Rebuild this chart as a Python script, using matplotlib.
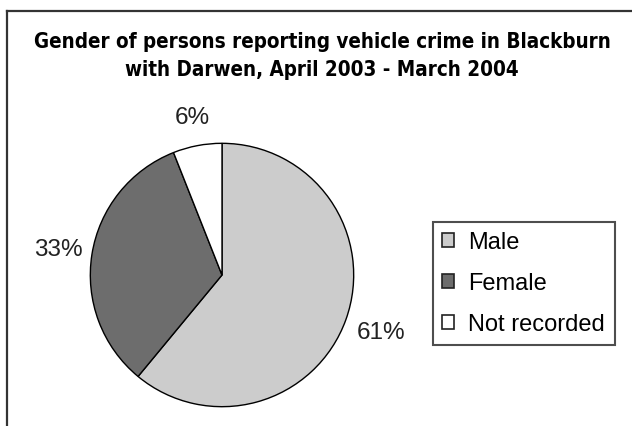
import numpy as np
import matplotlib
matplotlib.use("Agg")
import matplotlib.pyplot as plt
from matplotlib.lines import Line2D

# data
categories = ["Male", "Female", "Not recorded"]
shares = [61, 33, 6]
colors = ["#cccccc", "#6d6d6d", "#ffffff"]
label_dist = [1.28, 1.26, 1.22]

W, H = 632, 427
fig = plt.figure(figsize=(W / 100, H / 100), dpi=100)
plt.rcParams["font.family"] = ["Liberation Sans", "DejaVu Sans"]

# outer frame (only top and left edge visible in the reference)
fig.add_artist(Line2D([7 / W, 7 / W], [0, 1 - 12 / H], color="#333333", lw=1.6))
fig.add_artist(Line2D([7 / W, 1], [1 - 12 / H, 1 - 12 / H], color="#333333", lw=1.6))

title_kw = dict(ha="center", va="baseline", fontsize=14.8, fontweight="bold",
                fontstretch="condensed", family=["DejaVu Sans"])
fig.text(322 / W, 1 - 48 / H, "Gender of persons reporting vehicle crime in Blackburn", **title_kw)
fig.text(322 / W, 1 - 76 / H, "with Darwen, April 2003 - March 2004", **title_kw)

cx, cy, r = 222, 276, 133
ax = fig.add_axes([(cx - r) / W, (H - cy - r) / H, 2 * r / W, 2 * r / H])
wedges, _ = ax.pie(shares, colors=colors, startangle=90, counterclock=False,
                   wedgeprops=dict(edgecolor="black", linewidth=1.0))
ax.set_xlim(-1.01, 1.01)
ax.set_ylim(-1.01, 1.01)
ax.set_aspect("equal")
ax.axis("off")

for w, val, d in zip(wedges, shares, label_dist):
    ang = np.deg2rad((w.theta1 + w.theta2) / 2)
    ax.text(d * np.cos(ang), d * np.sin(ang), f"{val}%", ha="center", va="center",
            fontsize=17.5, color="#222222", clip_on=False)

leg = fig.legend(wedges, categories, loc="upper left",
                 bbox_to_anchor=(433 / W, 1 - 223 / H), fontsize=17,
                 frameon=True, fancybox=False, edgecolor="#222222",
                 handlelength=0.5, handleheight=0.5, handletextpad=0.6,
                 labelspacing=0.8, borderpad=0.4, borderaxespad=0)
leg.get_frame().set_linewidth(1.5)
for h in leg.legend_handles:
    h.set_linewidth(1.2)
    h.set_edgecolor("#222222")

fig.savefig("out.png", dpi=100)
